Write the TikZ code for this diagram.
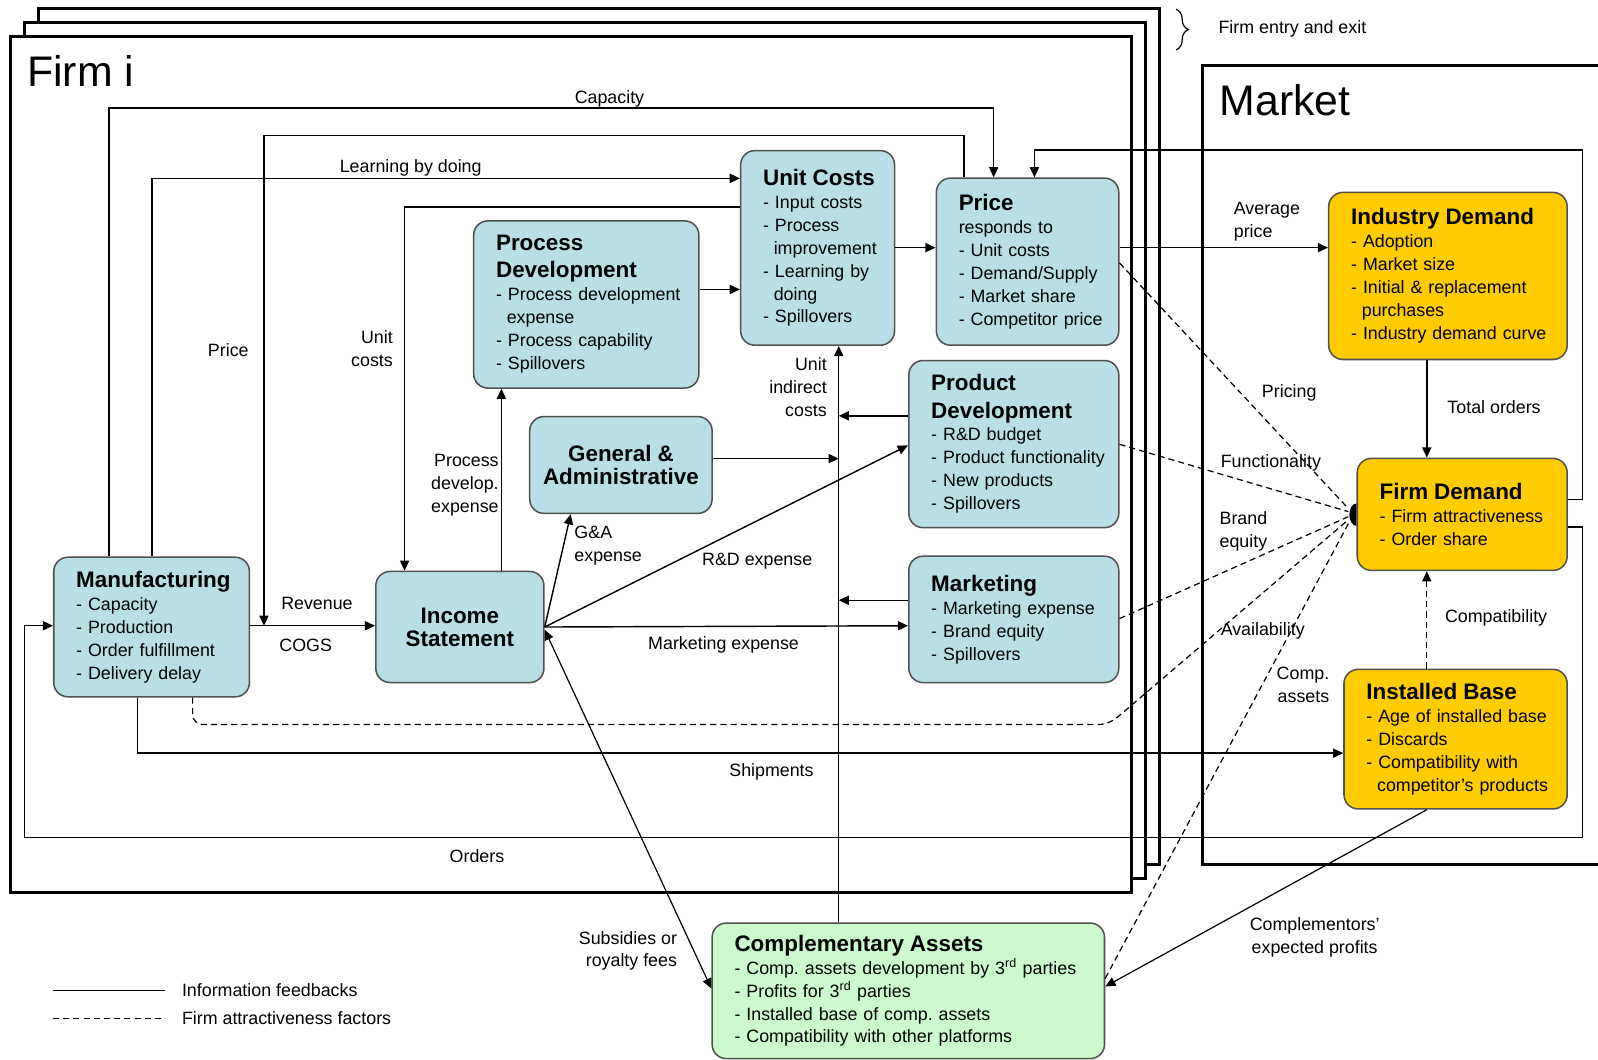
\documentclass[tikz,border=0pt]{standalone}
\usepackage{fontspec}
\setmainfont{Liberation Sans}
\usetikzlibrary{arrows.meta,decorations.pathreplacing}
\definecolor{boxblue}{HTML}{B8E0E4}
\definecolor{boxgold}{HTML}{FFCC00}
\definecolor{boxgreen}{HTML}{CCFACC}
\definecolor{boxline}{HTML}{505050}
\newcommand\boxtitle{\fontsize{22}{27}\selectfont\bfseries}
\newcommand\indt{\hspace*{10.5pt}}
\newcommand\pad{\leftskip=22pt\relax}
\frenchspacing

\begin{document}
\begin{tikzpicture}[x=1pt,y=-1pt,line width=1.4pt,
  font=\fontsize{17.5}{22.5}\selectfont,
  blk/.style={draw=boxline, line width=1.5pt, rounded corners=14pt, fill=boxblue,
    anchor=north west, inner xsep=0pt, inner ysep=0pt, align=left},
  arr/.style={-{Triangle[length=10pt,width=9pt]}},
  attr/.style={dash pattern=on 6pt off 4pt, line width=1.2pt},
  lbl/.style={inner sep=0pt, align=center},
  frame/.style={line width=3pt, fill=white}]

  \useasboundingbox[fill=white] (0,0) rectangle (1568,1040);
  \clip (0,0) rectangle (1568,1040);

  % firm frames and market
  \draw[frame] (38,8) rectangle (1138,848);
  \draw[frame] (24,22) rectangle (1124,862);
  \draw[frame] (10,36) rectangle (1110,876);
  \draw[line width=3pt] (1600,64) -- (1180,64) -- (1180,848) -- (1600,848);
  \node[lbl, anchor=west, font=\fontsize{42}{48}\selectfont] (firmi) at (26,70) {Firm i};
  \node[lbl, anchor=west, font=\fontsize{42}{48}\selectfont] (market) at (1196,98) {Market};
  \draw[line width=1.2pt, decorate, decoration={brace,amplitude=12pt}] (1154,9) -- (1154,49);
  \node[lbl, anchor=west] (entry) at (1195,28) {Firm entry and exit};

  % firm boxes
  \node[blk, minimum height=137, text width=192] (manu) at (52,546)
    {\pad{\boxtitle Manufacturing}\\- Capacity\\- Production\\- Order fulfillment\\- Delivery delay\par};
  \node[blk, minimum height=109, text width=165, align=center] (income) at (368,560)
    {\boxtitle Income\\Statement};
  \node[blk, minimum height=164, text width=221] (procdev) at (464,216)
    {\pad{\boxtitle Process\\[4pt]Development}\\- Process development\\\indt expense\\- Process capability\\- Spillovers\par};
  \node[blk, minimum height=95, text width=179, align=center] (ga) at (519,408)
    {\boxtitle General \&\\Administrative};
  \node[blk, minimum height=191, text width=151] (unitc) at (726,147)
    {\pad{\boxtitle Unit Costs}\\- Input costs\\- Process\\\indt improvement\\- Learning by\\\indt doing\\- Spillovers\par};
  \node[blk, minimum height=164, text width=179] (price) at (918,174)
    {\pad{\boxtitle Price}\\responds to\\- Unit costs\\- Demand/Supply\\- Market share\\- Competitor price\par};
  \node[blk, minimum height=164, text width=206] (proddev) at (891,353)
    {\pad{\boxtitle Product\\[4pt]Development}\\- R\&D budget\\- Product functionality\\- New products\\- Spillovers\par};
  \node[blk, minimum height=124, text width=206] (mkt) at (891,545)
    {\pad{\boxtitle Marketing}\\- Marketing expense\\- Brand equity\\- Spillovers\par};
  \node[blk, fill=boxgreen, minimum height=133, text width=385] (compl) at (698,905)
    {\pad{\boxtitle Complementary Assets}\\- Comp. assets development by 3\textsuperscript{rd} parties\\- Profits for 3\textsuperscript{rd} parties\\- Installed base of comp. assets\\- Compatibility with other platforms\par};

  % market boxes
  \node[blk, fill=boxgold, minimum height=164, text width=234] (inddem) at (1303,188)
    {\pad{\boxtitle Industry Demand}\\- Adoption\\- Market size\\- Initial \& replacement\\\indt purchases\\- Industry demand curve\par};
  \node[blk, fill=boxgold, minimum height=110, text width=206] (firmdem) at (1331,449)
    {\pad{\boxtitle Firm Demand}\\- Firm attractiveness\\- Order share\par};
  \node[blk, fill=boxgold, minimum height=137, text width=219] (instb) at (1318,656)
    {\pad{\boxtitle Installed Base}\\- Age of installed base\\- Discards\\- Compatibility with\\\indt competitor's products\par};

  % information feedbacks
  \coordinate (rev) at (259,614);
  \coordinate (uic) at (823,408);
  \draw[arr] (manu.north -| 107,0) |- (975,106) -- (price.north -| 975,0);
  \draw[arr] (price.north -| 946,0) |- (259,133) -- (rev);
  \draw[arr] (manu.north -| 149,0) |- (unitc.west |- 0,175);
  \draw[arr] (unitc.west |- 0,203) -| (income.north -| 397,0);
  \draw[arr] (income.north -| 492,0) -- (procdev.south -| 492,0);
  \draw[arr] (procdev.east |- 0,284) -- (unitc.west |- 0,284);
  \draw[arr] (unitc.east |- 0,243) -- (price.west |- 0,243);
  \draw[arr] (price.east |- 0,243) -- (inddem.west |- 0,243);
  \draw[arr] (firmdem.east |- 0,490) -| (1553,147) -| (price.north -| 1015,0);
  \draw[arr] (inddem.south -| 1400,0) -- (firmdem.north -| 1400,0);
  \draw[arr] (firmdem.east |- 0,517) -| (1553,822) -| (24,614) -- (manu.west |- 0,614);
  \draw[arr] (manu.south -| 135,0) |- (instb.west |- 0,739);
  \draw[arr] (manu.east |- 0,614) -- (income.west |- 0,614);
  \draw[arr] (compl.north -| 823,0) -- (unitc.south -| 823,0);
  \draw[arr] (proddev.west |- 0,408) -- (uic);
  \draw[arr] (mkt.west |- 0,589) -- (823,589);
  \draw[arr] (ga.east |- 0,450) -- (823,450);
  \draw[arr] (income.east) -- (ga.south -| 560,0);
  \draw[arr] (income.east) -- (proddev.west |- 0,437);
  \draw[arr] (income.east) -- (mkt.west |- 0,614);
  \draw[{Triangle[length=10pt,width=9pt]}-{Triangle[length=10pt,width=9pt]}, line width=1.2pt]
    (income.east |- 0,618) -- (compl.west |- 0,970);
  \draw[arr, line width=1.2pt] (instb.south -| 1400,0) -- (compl.east |- 0,968);

  % firm attractiveness factors
  \coordinate (fd) at (1323,505);
  \draw[attr] (price.east |- 0,258) -- (1323,499);
  \draw[attr] (proddev.east |- 0,436) -- (1323,502);
  \draw[attr] (mkt.east |- 0,607) -- (1323,507);
  \draw[attr, rounded corners=10pt] (manu.south -| 189,0) |- (1088,711) -- (1323,510);
  \draw[attr] (compl.east |- 0,960) -- (1324,512);
  \draw[attr, arr] (instb.north -| 1400,0) -- (firmdem.south -| 1400,0);
  \fill (firmdem.west |- 0,516) arc (270:90:7pt and 11pt) -- cycle;

  % labels
  \node[lbl] (lcap) at (598,97) {Capacity};
  \node[lbl] (llbd) at (403,165) {Learning by doing};
  \node[lbl] (lprice) at (224,344) {Price};
  \node[lbl, align=right] (lunit) at (365,342) {Unit\\costs};
  \node[lbl, align=right, anchor=east] (lpde) at (490,476) {Process\\develop.\\expense};
  \node[lbl] (lrev) at (311,592) {Revenue};
  \node[lbl] (lcogs) at (300,633) {COGS};
  \node[lbl, align=left, anchor=west] (lga) at (563,535) {G\&A\\expense};
  \node[lbl] (lrd) at (743,551) {R\&D expense};
  \node[lbl] (lmkt) at (710,633) {Marketing expense};
  \node[lbl, align=right, anchor=east] (luic) at (812,380) {Unit\\indirect\\costs};
  \node[lbl, align=left, anchor=west] (lavg) at (1210,218) {Average\\price};
  \node[lbl] (lpricing) at (1265,386) {Pricing};
  \node[lbl] (lfunc) at (1247,454) {Functionality};
  \node[lbl, align=left, anchor=west] (lbrand) at (1196,521) {Brand\\equity};
  \node[lbl] (lavail) at (1239,619) {Availability};
  \node[lbl, align=right, anchor=east] (lcomp) at (1305,672) {Comp.\\assets};
  \node[lbl] (ltot) at (1466,399) {Total orders};
  \node[lbl] (lcompat) at (1468,606) {Compatibility};
  \node[lbl] (lship) at (757,757) {Shipments};
  \node[lbl] (lord) at (468,840) {Orders};
  \node[lbl, align=right, anchor=east] (lsub) at (665,933) {Subsidies or\\royalty fees};
  \node[lbl] (lcompl) at (1290,920) {Complementors'\\expected profits};

  % legend
  \coordinate (lga1) at (52,972);
  \coordinate (lgb1) at (52,999);
  \draw[line width=1.2pt] (lga1) -- +(110,0) node[lbl, anchor=west, xshift=16pt] (leg1) {Information feedbacks};
  \draw[attr] (lgb1) -- +(110,0) node[lbl, anchor=west, xshift=16pt] (leg2) {Firm attractiveness factors};
\end{tikzpicture}
\end{document}
